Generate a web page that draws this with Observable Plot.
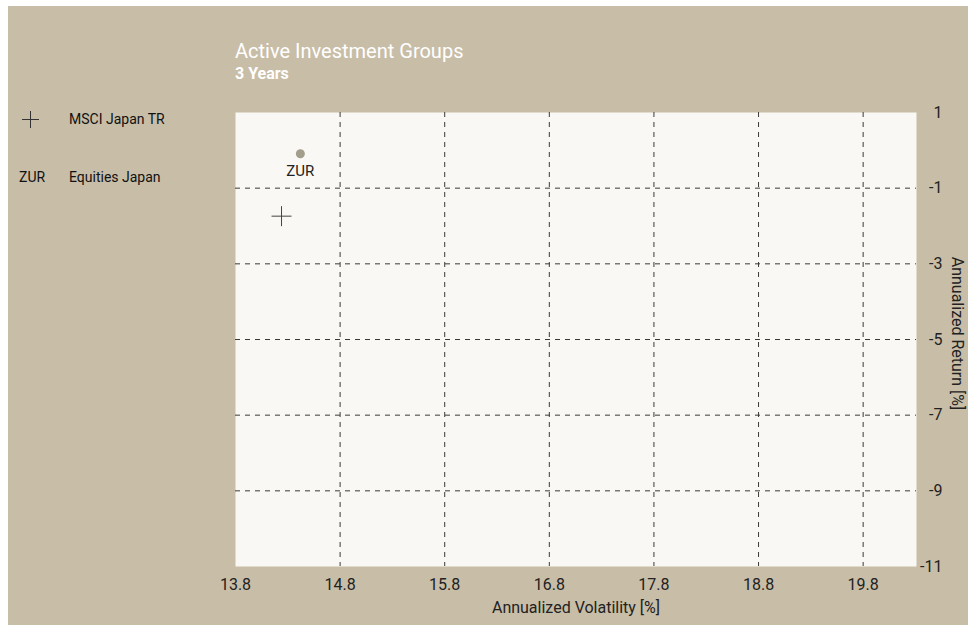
<!DOCTYPE html>
<html>
<head>
<meta charset="utf-8">
<script src="https://cdn.jsdelivr.net/npm/d3@7"></script>
<script src="https://cdn.jsdelivr.net/npm/@observablehq/plot@0.6"></script>
<style>
  html, body { margin: 0; padding: 0; background: #ffffff; }
  body { width: 968px; height: 625px; position: relative; overflow: hidden; font-family: Roboto, "Open Sans", sans-serif; }
  #bg { position: absolute; left: 8px; top: 6px; width: 960px; height: 619px; background: #c8bda7; }
  #chart { position: absolute; left: 0; top: 0; }
  .title { position: absolute; left: 235px; top: 39px; color: #ffffff; font-size: 20px; font-weight: 400; line-height: 24px; }
  .subtitle { position: absolute; left: 235px; top: 65px; color: #ffffff; font-size: 16px; font-weight: bold; line-height: 18px; }
  .leg { position: absolute; font-size: 14px; color: #111; line-height: 18px; }
</style>
</head>
<body>
<div id="bg"></div>
<div id="chart"></div>
<div class="title">Active Investment Groups</div>
<div class="subtitle">3 Years</div>
<svg style="position:absolute;left:22px;top:111px" width="17" height="17"><path d="M0,8.5H17M8.5,0V17" stroke="#333" stroke-width="1" fill="none"/></svg>
<div class="leg" style="left:69px;top:110px;">MSCI Japan TR</div>
<div class="leg" style="left:19px;top:168px;">ZUR</div>
<div class="leg" style="left:69px;top:168px;">Equities Japan</div>
<script>
const funds = ["ZUR"];
const fundVol = [14.42];
const fundRet = [-0.09];
const benchName = ["MSCI Japan TR"];
const benchVol = [14.24];
const benchRet = [-1.74];
const xTicks = [13.8, 14.8, 15.8, 16.8, 17.8, 18.8, 19.8];
const yTicks = [1, -1, -3, -5, -7, -9, -11];
const xGrid = [14.8, 15.8, 16.8, 17.8, 18.8, 19.8];
const yGrid = [-1, -3, -5, -7, -9];
const xDomain = [13.8, 20.31];
const yDomain = [-11, 1];

const fundData = funds.map((f, i) => ({name: f, vol: fundVol[i], ret: fundRet[i]}));
const benchData = benchName.map((f, i) => ({name: f, vol: benchVol[i], ret: benchRet[i]}));

const cross = {
  draw(context, size) {
    const r = Math.sqrt(size / Math.PI);
    context.moveTo(-r, 0); context.lineTo(r, 0);
    context.moveTo(0, -r); context.lineTo(0, r);
  }
};

const font = 'Roboto, "Open Sans", sans-serif';

const chart = Plot.plot({
  width: 968,
  height: 625,
  marginLeft: 235,
  marginRight: 52,
  marginTop: 112,
  marginBottom: 59,
  style: {background: "transparent", fontFamily: font, fontSize: "16px", color: "#222"},
  x: {domain: xDomain},
  y: {domain: yDomain},
  marks: [
    Plot.frame({fill: "#f9f8f4", stroke: null}),
    Plot.gridX(xGrid, {stroke: "#3a3a3a", strokeOpacity: 1, strokeDasharray: "5,5"}),
    Plot.gridY(yGrid, {stroke: "#3a3a3a", strokeOpacity: 1, strokeDasharray: "5,5"}),
    Plot.axisX({ticks: xTicks, tickSize: 0, tickPadding: 12, tickFormat: d => d.toFixed(1), label: null, fill: "#222"}),
    Plot.axisY({anchor: "right", ticks: yTicks, tickSize: 0, tickPadding: 26, textAnchor: "end", tickFormat: d => String(d), label: null, fill: "#222"}),
    Plot.text(["Annualized Volatility [%]"], {frameAnchor: "bottom", lineAnchor: "middle", textAnchor: "middle", dy: 41, fill: "#222"}),
    Plot.text(["Annualized Return [%]"], {frameAnchor: "right", textAnchor: "middle", lineAnchor: "middle", dx: 41, dy: -6, rotate: 90, fill: "#222"}),
    Plot.dot(benchData, {x: "vol", y: "ret", symbol: cross, r: 10, stroke: "#444", strokeWidth: 1, fill: "none"}),
    Plot.dot(fundData, {x: "vol", y: "ret", r: 4.5, fill: "#a39d8c", stroke: null}),
    Plot.text(fundData, {x: "vol", y: "ret", text: "name", dy: 17, fontSize: 15, fill: "#222"})
  ]
});
document.getElementById("chart").appendChild(chart);
</script>
</body>
</html>
